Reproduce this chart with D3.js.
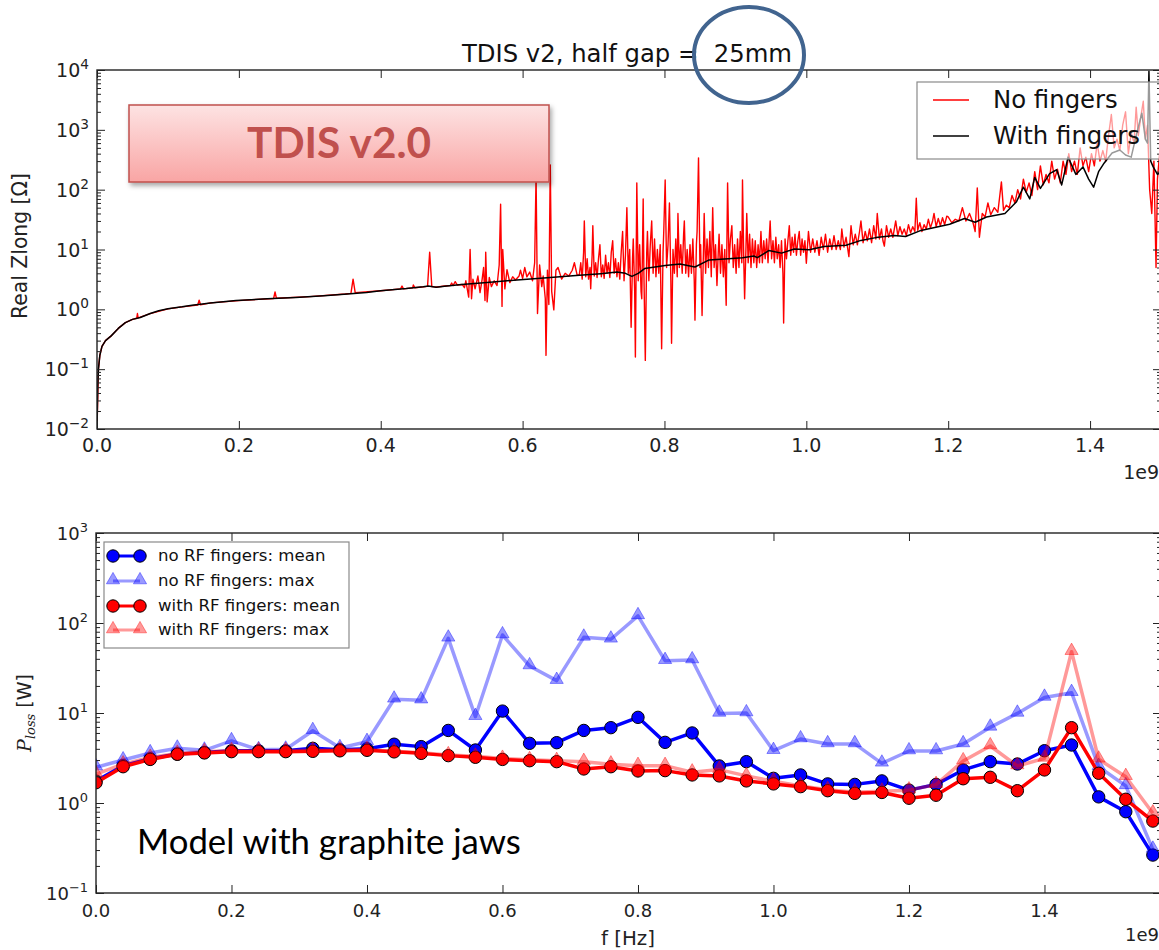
<!DOCTYPE html>
<html>
<head>
<meta charset="utf-8">
<script src="https://cdn.jsdelivr.net/npm/d3@7"></script>
<style>
	body { margin: 0; background: #fff; }
	svg { display: block; }
</style>
</head>
<body>
<div id="chart"></div>
<script>
// ---- top panel: Real Zlong vs f (f in units of 1e9 Hz) ----
const noFingers = [
	[0, 0.01], [0.002, 0.1], [0.004, 0.17], [0.007, 0.24], [0.012, 0.3], [0.02, 0.36], [0.03, 0.48], [0.04, 0.6],
	[0.05, 0.68], [0.056, 0.71], [0.057, 0.85], [0.058, 0.72], [0.075, 0.85], [0.1, 1.02], [0.12, 1.1], [0.142, 1.18],
	[0.144, 1.42], [0.146, 1.19], [0.16, 1.28], [0.2, 1.4], [0.249, 1.52], [0.251, 1.95], [0.253, 1.53], [0.3, 1.63],
	[0.35, 1.8], [0.358, 1.85], [0.361, 3.2], [0.364, 1.9], [0.4, 2.05], [0.428, 2.2], [0.43, 2.45], [0.432, 2.2],
	[0.445, 2.28], [0.446, 2.55], [0.448, 2.3], [0.466, 2.42], [0.469, 9.0], [0.472, 2.4], [0.48, 2.36], [0.49, 2.45],
	[0.498, 2.5], [0.5, 2.75], [0.502, 2.5], [0.505, 2.9], [0.508, 2.55], [0.515, 2.6], [0.518, 2.3], [0.52, 3.0],
	[0.524, 1.6], [0.526, 10], [0.528, 1.5], [0.53, 3.2], [0.533, 2.2], [0.537, 3.6], [0.54, 1.9], [0.543, 3.2],
	[0.545, 5.0], [0.547, 1.4], [0.548, 9.0], [0.55, 1.33], [0.553, 3.4], [0.556, 2.4], [0.56, 3.0], [0.564, 2.5],
	[0.567, 5.5], [0.569, 57], [0.571, 1.12], [0.572, 10], [0.575, 2.2], [0.578, 4.6], [0.582, 2.8], [0.586, 3.5],
	[0.59, 3.1], [0.595, 3.6], [0.597, 4.5], [0.6, 3.3], [0.603, 5.0], [0.606, 3.5], [0.61, 4.2], [0.614, 3.0],
	[0.617, 6], [0.619, 175], [0.621, 0.85], [0.624, 5.5], [0.627, 2.4], [0.629, 3.6], [0.632, 1.5], [0.633, 0.17],
	[0.635, 4.5], [0.637, 1.2], [0.639, 260], [0.641, 2.0], [0.644, 0.98], [0.647, 4.5], [0.65, 5], [0.655, 3.2],
	[0.66, 4], [0.665, 3.6], [0.67, 4.5], [0.673, 6], [0.677, 3.7], [0.68, 3.8], [0.682, 6], [0.684, 3.2],
	[0.686, 9], [0.687, 30], [0.689, 3.5], [0.691, 7], [0.693, 3.2], [0.695, 5], [0.696, 2.2], [0.698, 8],
	[0.699, 25], [0.701, 3.6], [0.703, 6], [0.705, 3.4], [0.707, 7], [0.709, 12], [0.711, 3.5], [0.713, 5.5],
	[0.715, 3.3], [0.717, 8], [0.719, 4], [0.721, 6], [0.723, 3.4], [0.725, 9], [0.727, 14], [0.729, 4],
	[0.731, 7], [0.733, 3.5], [0.735, 6], [0.737, 3.2], [0.739, 9], [0.741, 20], [0.743, 3], [0.745, 8],
	[0.747, 50], [0.749, 4], [0.751, 10], [0.753, 0.5], [0.755, 7], [0.756, 15], [0.758, 2], [0.759, 0.16],
	[0.761, 130], [0.763, 3], [0.765, 12], [0.767, 2], [0.768, 1.5], [0.77, 70], [0.771, 4], [0.773, 0.14],
	[0.775, 9], [0.776, 20], [0.778, 3], [0.78, 12], [0.782, 30], [0.784, 4], [0.786, 15], [0.788, 3.5],
	[0.79, 10], [0.792, 4], [0.794, 12], [0.796, 0.22], [0.798, 9], [0.799, 20], [0.801, 145], [0.803, 5],
	[0.805, 12], [0.807, 60], [0.809, 3], [0.81, 0.27], [0.812, 10], [0.814, 4], [0.816, 15], [0.818, 3.5],
	[0.819, 40], [0.821, 5], [0.823, 12], [0.825, 4], [0.827, 18], [0.828, 30], [0.83, 4], [0.832, 10],
	[0.834, 3.5], [0.836, 12], [0.838, 4], [0.84, 15], [0.842, 3], [0.843, 0.66], [0.845, 12], [0.846, 20],
	[0.848, 340], [0.85, 5], [0.851, 12], [0.853, 0.79], [0.855, 10], [0.856, 40], [0.858, 4], [0.86, 15],
	[0.862, 5], [0.864, 20], [0.866, 3.5], [0.868, 50], [0.87, 5], [0.872, 12], [0.874, 2.5], [0.876, 10],
	[0.877, 18], [0.879, 4], [0.881, 12], [0.883, 3.5], [0.885, 10], [0.887, 1.17], [0.889, 130], [0.891, 6],
	[0.893, 15], [0.895, 25], [0.897, 5], [0.899, 12], [0.901, 4], [0.903, 15], [0.905, 5], [0.907, 20],
	[0.909, 6], [0.91, 145], [0.912, 5], [0.913, 1.5], [0.915, 12], [0.916, 40], [0.918, 6], [0.92, 18],
	[0.922, 5], [0.924, 15], [0.926, 6], [0.928, 14], [0.93, 5], [0.932, 12], [0.934, 6], [0.936, 20],
	[0.938, 6], [0.94, 14], [0.942, 7], [0.944, 15], [0.946, 6], [0.948, 18], [0.949, 30], [0.951, 7],
	[0.953, 14], [0.955, 6], [0.957, 16], [0.959, 7], [0.961, 12], [0.963, 5], [0.965, 14], [0.967, 4],
	[0.968, 0.59], [0.97, 15], [0.972, 7], [0.974, 14], [0.976, 25], [0.978, 8], [0.98, 16], [0.982, 9],
	[0.984, 18], [0.986, 8], [0.988, 14], [0.99, 20], [0.992, 8], [0.994, 15], [0.996, 9], [0.998, 14],
	[1.0, 5.9], [1.003, 20], [1.006, 9], [1.009, 15], [1.012, 9], [1.015, 14], [1.018, 8], [1.021, 16],
	[1.024, 10], [1.027, 18], [1.03, 9], [1.033, 15], [1.036, 10], [1.039, 17], [1.042, 10], [1.045, 14],
	[1.048, 10], [1.05, 22], [1.053, 11], [1.056, 16], [1.06, 7.6], [1.063, 25], [1.066, 12], [1.069, 18],
	[1.072, 12], [1.075, 20], [1.077, 30], [1.08, 13], [1.083, 20], [1.086, 14], [1.089, 22], [1.092, 13],
	[1.095, 25], [1.098, 15], [1.1, 40], [1.103, 15], [1.106, 22], [1.108, 14], [1.11, 11.4], [1.113, 25],
	[1.116, 16], [1.119, 22], [1.122, 16], [1.126, 30], [1.129, 17], [1.132, 24], [1.135, 18], [1.138, 22],
	[1.141, 17], [1.144, 26], [1.147, 19], [1.15, 24], [1.153, 20], [1.155, 72], [1.157, 21], [1.16, 28],
	[1.163, 20], [1.166, 26], [1.169, 22], [1.172, 32], [1.175, 23], [1.178, 30], [1.18, 40], [1.183, 24],
	[1.186, 33], [1.189, 25], [1.192, 34], [1.195, 26], [1.198, 36], [1.2, 35], [1.205, 28], [1.21, 32],
	[1.215, 30], [1.22, 50], [1.225, 30], [1.23, 40], [1.235, 28], [1.238, 20], [1.241, 107], [1.244, 16],
	[1.248, 40], [1.252, 35], [1.256, 60], [1.26, 38], [1.265, 50], [1.27, 42], [1.275, 135], [1.278, 45],
	[1.282, 55], [1.286, 50], [1.29, 80], [1.294, 60], [1.298, 100], [1.302, 70], [1.306, 150], [1.31, 90],
	[1.314, 130], [1.318, 80], [1.322, 200], [1.326, 100], [1.33, 250], [1.334, 120], [1.338, 180], [1.342, 130],
	[1.346, 300], [1.35, 150], [1.354, 220], [1.358, 130], [1.362, 300], [1.366, 180], [1.37, 400], [1.374, 200],
	[1.378, 300], [1.382, 180], [1.386, 500], [1.39, 250], [1.394, 350], [1.398, 200], [1.402, 400], [1.406, 250],
	[1.41, 600], [1.414, 300], [1.418, 450], [1.422, 300], [1.426, 800], [1.43, 1800], [1.434, 500], [1.438, 700],
	[1.442, 450], [1.446, 1200], [1.45, 2000], [1.454, 400], [1.458, 900], [1.462, 600], [1.465, 2400], [1.468, 800],
	[1.471, 1500], [1.475, 3000], [1.478, 700], [1.481, 1200], [1.484, 100], [1.487, 40], [1.49, 300], [1.493, 5],
	[1.495, 150], [1.498, 400], [1.5, 250]
];

const withFingers = [
	[0, 0.01], [0.001, 0.05], [0.002, 0.1], [0.004, 0.17], [0.007, 0.24], [0.012, 0.3], [0.02, 0.36], [0.03, 0.48],
	[0.04, 0.6], [0.05, 0.68], [0.061, 0.73], [0.075, 0.85], [0.087, 0.95], [0.1, 1.02], [0.12, 1.1], [0.134, 1.17],
	[0.16, 1.28], [0.196, 1.4], [0.24, 1.5], [0.28, 1.58], [0.32, 1.68], [0.353, 1.8], [0.38, 1.92], [0.4, 2.05],
	[0.436, 2.22], [0.46, 2.38], [0.467, 2.45], [0.478, 2.34], [0.49, 2.42], [0.514, 2.6], [0.55, 2.8], [0.592, 3.1],
	[0.63, 3.35], [0.68, 3.7], [0.71, 3.95], [0.733, 4.2], [0.745, 4.0], [0.754, 3.55], [0.763, 4.0], [0.772, 4.8],
	[0.801, 5.4], [0.822, 5.7], [0.843, 5.1], [0.863, 6.7], [0.89, 7.0], [0.91, 7.3], [0.926, 7.8], [0.931, 7.3],
	[0.947, 9.6], [0.965, 8.7], [0.983, 10.2], [1.004, 9.9], [1.025, 11.2], [1.056, 11.8], [1.077, 14.2], [1.098, 15.8],
	[1.124, 17.2], [1.14, 16.5], [1.16, 20.5], [1.181, 23.4], [1.202, 26.5], [1.223, 33], [1.238, 28.5], [1.254, 35],
	[1.28, 40], [1.296, 62], [1.306, 110], [1.315, 70], [1.322, 160], [1.33, 105], [1.343, 185], [1.353, 215],
	[1.36, 120], [1.369, 350], [1.38, 180], [1.39, 240], [1.398, 150], [1.405, 110], [1.412, 200], [1.42, 280],
	[1.431, 410], [1.442, 460], [1.45, 380], [1.458, 350], [1.466, 900], [1.473, 1900], [1.478, 700], [1.481, 600],
	[1.483, 9500], [1.4855, 300], [1.489, 240], [1.495, 180], [1.5, 200]
];

const topXTicks = [0, 0.2, 0.4, 0.6, 0.8, 1.0, 1.2, 1.4];
const topYExp = [-2, -1, 0, 1, 2, 3, 4];

// ---- bottom panel: P_loss vs f ----
const freqs = [0, 0.04, 0.08, 0.12, 0.16, 0.2, 0.24, 0.28, 0.32, 0.36, 0.4, 0.44, 0.48, 0.52, 0.56, 0.6, 0.64, 0.68, 0.72, 0.76,
	0.8, 0.84, 0.88, 0.92, 0.96, 1.0, 1.04, 1.08, 1.12, 1.16, 1.2, 1.24, 1.28, 1.32, 1.36, 1.4, 1.44, 1.48, 1.52, 1.56];
const noRfMean = [1.75, 2.6, 3.1, 3.5, 3.65, 3.8, 3.8, 3.8, 4.05, 3.9, 4.0, 4.5, 4.23, 6.4, 3.88, 10.5, 4.6, 4.68, 6.4, 6.87,
	8.95, 4.72, 6.0, 2.58, 2.88, 1.88, 2.05, 1.63, 1.61, 1.76, 1.39, 1.61, 2.33, 2.88, 2.71, 3.81, 4.41, 1.17, 0.8, 0.264];
const noRfMax = [2.5, 3.0, 3.6, 4.05, 3.85, 4.9, 3.9, 3.95, 6.35, 4.1, 4.8, 14.2, 13.9, 67.6, 9.1, 73.6, 33.3, 22.9, 69.3, 65.9,
	120, 38.1, 38.8, 9.9, 10.0, 3.81, 5.14, 4.53, 4.53, 2.76, 3.78, 3.78, 4.53, 6.93, 9.9, 14.9, 16.8, 2.53, 1.55, 0.305];
const withRfMean = [1.68, 2.53, 3.05, 3.48, 3.6, 3.72, 3.72, 3.72, 3.75, 3.8, 3.85, 3.7, 3.56, 3.36, 3.22, 3.05, 2.95, 2.88, 2.39, 2.53,
	2.27, 2.29, 2.05, 2.0, 1.76, 1.63, 1.52, 1.37, 1.28, 1.31, 1.13, 1.22, 1.86, 1.93, 1.37, 2.33, 6.87, 2.14, 1.1, 0.63];
const withRfMax = [2.1, 2.7, 3.2, 3.55, 3.7, 3.8, 3.8, 3.8, 3.85, 3.85, 3.9, 3.75, 3.62, 3.42, 3.3, 3.12, 3.02, 2.95, 2.88, 2.7,
	2.6, 2.6, 2.2, 2.35, 2.0, 1.75, 1.55, 1.4, 1.32, 1.35, 1.39, 1.6, 2.93, 4.3, 2.58, 3.13, 48, 3.06, 1.96, 0.77];

const bottomXTicks = [0, 0.2, 0.4, 0.6, 0.8, 1.0, 1.2, 1.4];
const bottomYExp = [-1, 0, 1, 2, 3];

const bottomSeries = [
	{ name: 'no RF fingers: mean', values: noRfMean, color: '#0000ff', marker: 'circle', alpha: 1 },
	{ name: 'no RF fingers: max', values: noRfMax, color: '#0000ff', marker: 'triangle', alpha: 0.4 },
	{ name: 'with RF fingers: mean', values: withRfMean, color: '#ff0000', marker: 'circle', alpha: 1 },
	{ name: 'with RF fingers: max', values: withRfMax, color: '#ff0000', marker: 'triangle', alpha: 0.4 }
];

const width = 1159;
const height = 950;
const axisColor = '#222';

const svg = d3.select('#chart')
	.append('svg')
	.attr('width', width)
	.attr('height', height)
	.style('font-family', '"DejaVu Sans", sans-serif');

const defs = svg.append('defs');

// scale a text's font so it spans the width seen in the picture
function fitWidth(sel, fs, target) {
	const w = sel.node().getComputedTextLength();
	if (w > 0) sel.style('font-size', (fs * target / w).toFixed(2) + 'px');
}

// superscript log label like 10^-2
function logLabel(g, x, y, exp, fs) {
	const t = g.append('text')
		.attr('x', x)
		.attr('y', y)
		.attr('text-anchor', 'end')
		.attr('fill', axisColor)
		.style('font-size', fs + 'px');
	t.append('tspan').text('10');
	t.append('tspan')
		.attr('dy', -0.42 * fs)
		.style('font-size', fs * 0.72 + 'px')
		.text(String(exp).replace('-', '\u2212'));
}

function minorTicks(exps) {
	let out = [];
	for (let e = exps[0]; e < exps[exps.length - 1]; e++) {
		for (let m = 2; m <= 9; m++) out.push(m * Math.pow(10, e));
	}
	return out;
}

function drawFrame(g, x, y, box, xTicks, yExp, opt) {
	const majors = yExp.map((e) => Math.pow(10, e));
	const minors = minorTicks(yExp);

	g.append('g').attr('transform', `translate(0,${box.bottom})`)
		.call(d3.axisBottom(x).tickValues(xTicks).tickSize(-8).tickFormat(''));
	g.append('g').attr('transform', `translate(0,${box.top})`)
		.call(d3.axisTop(x).tickValues(xTicks).tickSize(-8).tickFormat(''));
	g.append('g').attr('transform', `translate(${box.left},0)`)
		.call(d3.axisLeft(y).tickValues(majors).tickSize(-8).tickFormat(''));
	g.append('g').attr('transform', `translate(${box.left},0)`)
		.call(d3.axisLeft(y).tickValues(minors).tickSize(-4).tickFormat(''));
	g.append('g').attr('transform', `translate(${box.right},0)`)
		.call(d3.axisRight(y).tickValues(majors).tickSize(-8).tickFormat(''));
	g.append('g').attr('transform', `translate(${box.right},0)`)
		.call(d3.axisRight(y).tickValues(minors).tickSize(-4).tickFormat(''));

	g.selectAll('.domain').remove();
	g.selectAll('.tick line').attr('stroke', axisColor).attr('stroke-width', 1);

	g.append('rect')
		.attr('x', box.left)
		.attr('y', box.top)
		.attr('width', box.right - box.left)
		.attr('height', box.bottom - box.top)
		.attr('fill', 'none')
		.attr('stroke', axisColor)
		.attr('stroke-width', 1.4);

	// x tick labels
	xTicks.forEach((t) => {
		g.append('text')
			.attr('x', x(t))
			.attr('y', box.bottom + opt.xLabelDy)
			.attr('text-anchor', 'middle')
			.attr('fill', axisColor)
			.style('font-size', opt.fs + 'px')
			.text(t.toFixed(1));
	});
	// y tick labels
	yExp.forEach((e) => logLabel(g, box.left - 8, y(Math.pow(10, e)) + 7, e, opt.fs));

	g.append('text')
		.attr('x', box.right - 2)
		.attr('y', opt.offsetY)
		.attr('text-anchor', 'end')
		.attr('fill', axisColor)
		.style('font-size', opt.fs + 'px')
		.text('1e9');
}

// ================= top panel =================
const topBox = { left: 97, right: 1161, top: 70, bottom: 429 };
const x1 = d3.scaleLinear().domain([0, 1.5]).range([topBox.left, topBox.right]);
const y1 = d3.scaleLog().domain([1e-2, 1e4]).range([topBox.bottom, topBox.top]);

defs.append('clipPath').attr('id', 'clipTop')
	.append('rect')
	.attr('x', topBox.left).attr('y', topBox.top)
	.attr('width', topBox.right - topBox.left).attr('height', topBox.bottom - topBox.top);

const gTop = svg.append('g');
const line1 = d3.line().x((d) => x1(d[0])).y((d) => y1(d[1]));

const plotTop = gTop.append('g').attr('clip-path', 'url(#clipTop)');
plotTop.append('path').datum(noFingers)
	.attr('d', line1).attr('fill', 'none').attr('stroke', '#ff0000').attr('stroke-width', 1.4)
	.attr('stroke-linejoin', 'round');
plotTop.append('path').datum(withFingers)
	.attr('d', line1).attr('fill', 'none').attr('stroke', '#000').attr('stroke-width', 1.5)
	.attr('stroke-linejoin', 'round');

// legend (semi transparent frame)
const legTop = gTop.append('g');
legTop.append('rect')
	.attr('x', 917).attr('y', 82).attr('width', 260).attr('height', 77)
	.attr('fill', '#fff').attr('fill-opacity', 0.6).attr('stroke', '#8a8a8a').attr('stroke-width', 1.2);
const legTopText = [];
[['No fingers', '#ff0000', 100], ['With fingers', '#000', 136]].forEach(([label, color, ly]) => {
	legTop.append('line').attr('x1', 933).attr('x2', 969).attr('y1', ly).attr('y2', ly)
		.attr('stroke', color).attr('stroke-width', 1.4);
	legTopText.push(legTop.append('text').attr('x', 993).attr('y', ly + 8).attr('fill', '#111')
		.style('font-size', '22px').text(label));
});
fitWidth(legTopText[1], 22, 147);
legTopText[0].style('font-size', legTopText[1].style('font-size'));

drawFrame(gTop, x1, y1, topBox, topXTicks, topYExp, { fs: 19, xLabelDy: 23, offsetY: 479 });

const zLabel = gTop.append('text')
	.attr('transform', `translate(27,246) rotate(-90)`)
	.attr('text-anchor', 'middle')
	.attr('fill', axisColor)
	.style('font-size', '17px')
	.text('Real Zlong [\u03A9]');
fitWidth(zLabel, 17, 146);

const title = gTop.append('text')
	.attr('x', 627)
	.attr('y', 62)
	.attr('text-anchor', 'middle')
	.attr('fill', '#111')
	.style('font-size', '22px')
	.text('TDIS v2, half gap =\u00a0 25mm');
fitWidth(title, 22, 330);

// highlight ellipse round "25mm"
svg.append('ellipse')
	.attr('cx', 749).attr('cy', 55).attr('rx', 55).attr('ry', 48)
	.attr('fill', 'none').attr('stroke', '#41648f').attr('stroke-width', 4);

// TDIS v2.0 banner
const grad = defs.append('linearGradient').attr('id', 'bannerFill').attr('x1', 0).attr('y1', 0).attr('x2', 0).attr('y2', 1);
grad.append('stop').attr('offset', '0%').attr('stop-color', '#fde3e3');
grad.append('stop').attr('offset', '100%').attr('stop-color', '#f9a5a4');
const shadow = defs.append('filter').attr('id', 'bannerShadow').attr('x', '-10%').attr('y', '-20%').attr('width', '130%').attr('height', '150%');
shadow.append('feDropShadow').attr('dx', 2).attr('dy', 3).attr('stdDeviation', 2.5).attr('flood-color', '#000').attr('flood-opacity', 0.35);

svg.append('rect')
	.attr('x', 129).attr('y', 105).attr('width', 420).attr('height', 77)
	.attr('fill', 'url(#bannerFill)').attr('stroke', '#c0504d').attr('stroke-width', 1.5)
	.attr('filter', 'url(#bannerShadow)');
const banner = svg.append('text')
	.attr('x', 339).attr('y', 158)
	.attr('text-anchor', 'middle')
	.attr('fill', '#c0504d')
	.style('font-family', 'Lato, "Open Sans", sans-serif')
	.style('font-weight', 'bold')
	.style('font-size', '40px')
	.text('TDIS v2.0');
fitWidth(banner, 40, 184);

// ================= bottom panel =================
const botBox = { left: 96, right: 1161, top: 533, bottom: 893 };
const x2 = d3.scaleLinear().domain([0, 1.572]).range([botBox.left, botBox.right]);
const y2 = d3.scaleLog().domain([0.1, 1000]).range([botBox.bottom, botBox.top]);

defs.append('clipPath').attr('id', 'clipBot')
	.append('rect')
	.attr('x', botBox.left).attr('y', botBox.top)
	.attr('width', botBox.right - botBox.left).attr('height', botBox.bottom - botBox.top);

const gBot = svg.append('g');
const plotBot = gBot.append('g').attr('clip-path', 'url(#clipBot)');
const line2 = d3.line().x((d) => x2(d[0])).y((d) => y2(d[1]));

function drawMarker(g, kind, cx, cy, color, alpha) {
	if (kind === 'circle') {
		g.append('circle').attr('cx', cx).attr('cy', cy).attr('r', 6.2)
			.attr('fill', color).attr('fill-opacity', alpha)
			.attr('stroke', '#000').attr('stroke-opacity', alpha).attr('stroke-width', 1);
	} else {
		g.append('path')
			.attr('d', d3.symbol(d3.symbolTriangle, 75)())
			.attr('transform', `translate(${cx},${cy - 1})`)
			.attr('fill', color).attr('fill-opacity', alpha)
			.attr('stroke', color).attr('stroke-opacity', alpha).attr('stroke-width', 1);
	}
}

bottomSeries.forEach((s) => {
	const pts = freqs.map((f, i) => [f, s.values[i]]);
	const g = plotBot.append('g');
	g.append('path').datum(pts)
		.attr('d', line2).attr('fill', 'none')
		.attr('stroke', s.color).attr('stroke-opacity', s.alpha).attr('stroke-width', 3.5)
		.attr('stroke-linejoin', 'round');
	pts.forEach((d) => drawMarker(g, s.marker, x2(d[0]), y2(d[1]), s.color, s.alpha));
});

drawFrame(gBot, x2, y2, botBox, bottomXTicks, bottomYExp, { fs: 18, xLabelDy: 24, offsetY: 941 });

// legend
const legBot = gBot.append('g');
legBot.append('rect')
	.attr('x', 104).attr('y', 542).attr('width', 245).attr('height', 106)
	.attr('fill', '#fff').attr('stroke', '#8a8a8a').attr('stroke-width', 1.2);
const legBotText = [];
bottomSeries.forEach((s, i) => {
	const ly = [556, 581, 606, 630][i];
	legBot.append('line').attr('x1', 113).attr('x2', 140).attr('y1', ly).attr('y2', ly)
		.attr('stroke', s.color).attr('stroke-opacity', s.alpha).attr('stroke-width', 3);
	drawMarker(legBot, s.marker, 113, ly, s.color, s.alpha);
	drawMarker(legBot, s.marker, 140, ly, s.color, s.alpha);
	legBotText.push(legBot.append('text').attr('x', 158).attr('y', ly + 5).attr('fill', '#111')
		.style('font-size', '16px').text(s.name));
});
fitWidth(legBotText[2], 16, 182);
legBotText.forEach((t) => t.style('font-size', legBotText[2].style('font-size')));

// axis labels
const pl = gBot.append('text')
	.attr('transform', `translate(31,713) rotate(-90)`)
	.attr('text-anchor', 'middle')
	.attr('fill', axisColor)
	.style('font-size', '19px');
pl.append('tspan').style('font-family', '"DejaVu Serif", serif').style('font-style', 'italic').text('P');
pl.append('tspan').attr('dy', 4).style('font-family', '"DejaVu Serif", serif').style('font-style', 'italic')
	.style('font-size', '13px').text('loss');
pl.append('tspan').attr('dy', -4).text(' [W]');

const fLabel = gBot.append('text')
	.attr('x', 628)
	.attr('y', 945)
	.attr('text-anchor', 'middle')
	.attr('fill', axisColor)
	.style('font-size', '18px')
	.text('f [Hz]');
fitWidth(fLabel, 18, 54);

const model = svg.append('text')
	.attr('x', 137).attr('y', 854)
	.attr('fill', '#000')
	.style('font-family', 'Lato, "Open Sans", sans-serif')
	.style('font-size', '32px')
	.text('Model with graphite jaws');
fitWidth(model, 32, 384);
</script>
</body>
</html>
